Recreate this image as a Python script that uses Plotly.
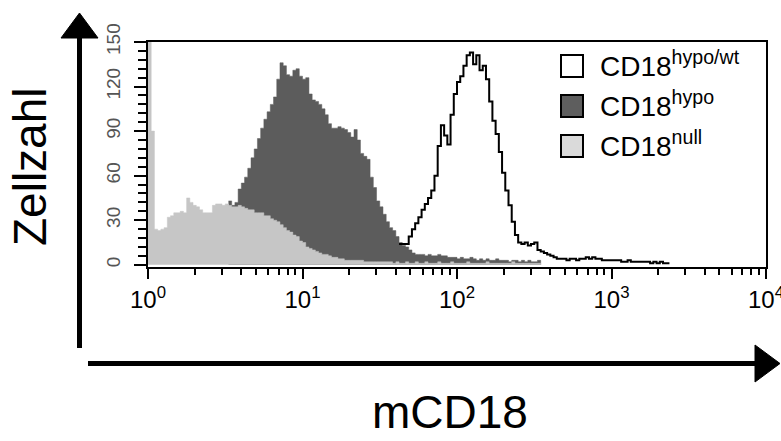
import plotly.graph_objects as go

# ---------------- data ----------------
CHANNELS_PER_DECADE = 48          # histogram channel width on the log axis
X_TICK_VALUES = [1, 10, 100, 1000, 10000]
X_TICK_LABELS = ["10<sup>0</sup>", "10<sup>1</sup>", "10<sup>2</sup>",
                 "10<sup>3</sup>", "10<sup>4</sup>"]
Y_TICK_VALUES = [0, 30, 60, 90, 120, 150]

SERIES_NAMES = ["CD18<sup>hypo/wt</sup>", "CD18<sup>hypo</sup>", "CD18<sup>null</sup>"]

# CD18 hypo (dark grey filled), first channel 25
hypo_start = 25
hypo_counts = [43, 40, 42, 51, 55, 59, 65, 72, 78, 85,
               92, 98, 103, 108, 113, 125, 136, 134, 128, 127,
               131, 132, 127, 125, 126, 115, 111, 110, 108, 105,
               101, 95, 92, 92, 93, 92, 91, 89, 86, 91,
               84, 75, 73, 71, 59, 52, 43, 39, 34, 29,
               25, 23, 19, 15, 13, 12, 10, 8, 7,
               7, 7, 6, 7, 6, 6, 7, 6, 6,
               5, 5, 5, 4, 5, 4, 4, 5,
               4, 3, 4, 3, 4, 3, 3, 4, 3, 3, 3, 2, 3, 3, 2, 3, 2, 3, 2, 2, 3]

# CD18 null (light grey filled), first channel 0
null_start = 0
null_counts = [160, 90,
               24, 23, 24, 25,
               32, 33, 35, 35, 36, 35,
               45, 42, 40, 39, 37, 35, 35, 35,
               40, 41, 41, 40, 41, 40, 39, 39, 40, 39,
               38, 37, 37, 35, 35, 35, 33, 33, 31, 30,
               29, 27, 25, 23, 22, 20, 19, 16, 15, 12,
               11, 10, 9, 8, 7, 7, 6, 5, 5,
               4, 4, 3, 3, 3, 3, 3, 3,
               2, 2, 2, 2, 2, 2, 2, 2,
               2, 1, 2, 1, 1, 2, 1, 1, 2, 1,
               1, 2, 1, 1, 1, 2, 1, 1, 1, 2,
               1, 1, 1, 1, 2, 1, 1, 1, 1, 1,
               2, 1, 1, 1, 1, 1, 1, 1, 2, 1,
               1, 1, 1, 1, 1, 1, 1]

# CD18 hypo/wt (black outline), first channel 78
wt_start = 78
wt_counts = [14,
             14, 14, 19, 24, 28, 32, 37, 41, 45, 50,
             60, 80, 94, 87, 81, 101, 115, 123, 127, 134,
             141, 143, 135, 141, 131, 134, 125, 110, 97, 88,
             76, 62, 50, 40, 29, 20, 15, 14, 15, 13,
             14, 15, 10, 9, 8, 7, 6, 5, 4, 4,
             4, 3, 4, 4, 3, 4, 4, 5, 4, 5, 4, 4,
             3, 3, 3, 3, 3, 3, 2, 2, 3, 2, 2, 2, 2, 2,
             2, 1, 2, 1, 2, 1, 1]

# ---------------- styles ----------------
DARK = "#5c5c5c"
LIGHT = "#c6c6c6"
LEG_DARK = "#5e5e5e"
LEG_LIGHT = "#dadada"
FONT = "Liberation Sans"

W, H = 781, 441
L, R, T, B = 148, 15, 42, 174
PW, PH = W - L - R, H - T - B


def px2x(px):
    return (px - L) / PW


def py2y(py):
    return (H - B - py) / PH


def step_xy(start, counts, close):
    edges = [10 ** ((start + i) / CHANNELS_PER_DECADE) for i in range(len(counts) + 1)]
    ys = list(counts) + [0 if close else counts[-1]]
    return edges, ys


fig = go.Figure()

x, y = step_xy(hypo_start, hypo_counts, True)
fig.add_trace(go.Scatter(x=x, y=y, mode="lines", line=dict(shape="hv", color=DARK, width=0.5),
                         fill="tozeroy", fillcolor=DARK, name="CD18 hypo", hoverinfo="skip"))
x, y = step_xy(null_start, null_counts, True)
fig.add_trace(go.Scatter(x=x, y=y, mode="lines", line=dict(shape="hv", color=LIGHT, width=0.5),
                         fill="tozeroy", fillcolor=LIGHT, name="CD18 null", hoverinfo="skip"))
x, y = step_xy(wt_start, wt_counts, False)
fig.add_trace(go.Scatter(x=x, y=y, mode="lines", line=dict(shape="hv", color="black", width=2),
                         name="CD18 hypo/wt", hoverinfo="skip"))

minor_x = [d * 10 ** k for k in range(4) for d in range(2, 10)]

fig.update_layout(
    width=W, height=H,
    margin=dict(l=L, r=R, t=T, b=B, autoexpand=False),
    paper_bgcolor="white", plot_bgcolor="white",
    showlegend=False,
    xaxis=dict(type="log", range=[0, 4], tickmode="array", tickvals=X_TICK_VALUES,
               ticktext=X_TICK_LABELS, ticks="outside", ticklen=10, tickwidth=2,
               tickcolor="black", showline=True, linewidth=2, linecolor="black",
               mirror=True, showgrid=False, zeroline=False, automargin=False,
               ticklabeloverflow="allow",
               tickfont=dict(family=FONT, size=24, color="black"),
               minor=dict(tickmode="array", tickvals=minor_x, ticks="outside", ticklen=6,
                          tickwidth=2, tickcolor="black", showgrid=False)),
    yaxis=dict(range=[-1.5, 150], tickmode="array", tickvals=Y_TICK_VALUES,
               ticks="outside", ticklen=12, tickwidth=2, tickcolor="black",
               tickangle=-90, showline=True, linewidth=2, linecolor="black",
               mirror=True, showgrid=False, zeroline=False, automargin=False,
               ticklabelstandoff=6, ticklabeloverflow="allow",
               tickfont=dict(family=FONT, size=19, color="#555555"),
               minor=dict(tick0=0, dtick=6, ticks="outside", ticklen=8, tickwidth=2,
                          tickcolor="black", showgrid=False)),
)

# legend (drawn boxes + text)
leg_fills = ["white", LEG_DARK, LEG_LIGHT]
leg_tops = [55, 95, 135]
for name, fc, top in zip(SERIES_NAMES, leg_fills, leg_tops):
    fig.add_shape(type="rect", xref="paper", yref="paper",
                  x0=px2x(561), x1=px2x(583), y0=py2y(top), y1=py2y(top + 22),
                  fillcolor=fc, line=dict(color="black", width=2), layer="above")
    fig.add_annotation(xref="paper", yref="paper", x=px2x(598), y=py2y(top + 9),
                       xanchor="left", yanchor="middle", showarrow=False, text=name,
                       font=dict(family=FONT, size=28, color="black"))

# big axis arrows
fig.add_shape(type="line", xref="paper", yref="paper", x0=px2x(79.5), x1=px2x(79.5),
              y0=py2y(348), y1=py2y(36), line=dict(color="black", width=5))
fig.add_shape(type="path", xref="paper", yref="paper",
              path=f"M {px2x(61)},{py2y(38)} L {px2x(98)},{py2y(38)} L {px2x(79.5)},{py2y(13)} Z",
              fillcolor="black", line=dict(color="black", width=1))
fig.add_shape(type="line", xref="paper", yref="paper", x0=px2x(88), x1=px2x(757),
              y0=py2y(363.5), y1=py2y(363.5), line=dict(color="black", width=5))
fig.add_shape(type="path", xref="paper", yref="paper",
              path=f"M {px2x(755)},{py2y(345)} L {px2x(755)},{py2y(382)} L {px2x(780)},{py2y(363.5)} Z",
              fillcolor="black", line=dict(color="black", width=1))

fig.add_annotation(xref="paper", yref="paper", x=px2x(30), y=py2y(167), textangle=-90,
                   xanchor="center", yanchor="middle",
                   showarrow=False, text="Zellzahl",
                   font=dict(family=FONT, size=46, color="black"))
fig.add_annotation(xref="paper", yref="paper", x=px2x(450), y=py2y(412),
                   xanchor="center", yanchor="middle",
                   showarrow=False, text="mCD18",
                   font=dict(family=FONT, size=46, color="black"))

fig.write_html("out.html", config={"displayModeBar": False},
               post_script="document.body.style.margin='0';document.body.style.overflow='hidden';")
